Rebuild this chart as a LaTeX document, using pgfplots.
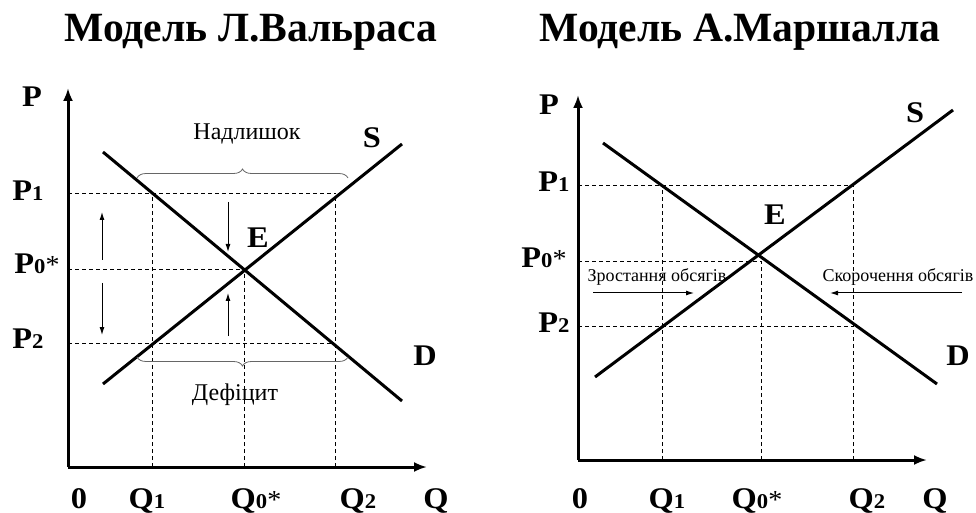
\documentclass[border=0pt]{standalone}
\usepackage{pgfplots}
\pgfplotsset{compat=1.18}
\usepackage{fontspec}
\setmainfont{Liberation Serif}
\usetikzlibrary{arrows.meta,decorations.pathreplacing}

\newcommand{\sub}[1]{{\fontsize{21bp}{21bp}\selectfont #1}}
\newcommand{\st}{{\fontsize{26bp}{26bp}\selectfont\mdseries *}}
\newcommand{\W}[1]{\scalebox{1.08}[1]{#1}}

\pgfplotsset{
  econ/.style={
    x=1bp, y=1bp, anchor=origin,
    xmin=0, ymin=0, enlargelimits=false, clip=false,
    axis lines=left, ticks=none,
    axis line style={line width=3bp, -{Latex[length=13bp,width=10bp]}},
  },
  curve/.style={line width=3bp, black},
  guide/.style={line width=0.9bp, black, dash pattern=on 4bp off 3bp},
  smallarrow/.style={line width=1bp, black, -{Latex[length=8bp,width=5bp]}},
}

\begin{document}
\begin{tikzpicture}[x=1bp,y=1bp,
  lab/.style={font=\fontsize{30bp}{30bp}\selectfont\bfseries, anchor=base, inner sep=0pt},
  ttl/.style={font=\fontsize{41.6bp}{42bp}\selectfont\bfseries, anchor=base, inner sep=0pt}]
\useasboundingbox (0,0) rectangle (976,-513);

% ---------------- Walras ----------------
\begin{axis}[econ, at={(68,-467)}, xmax=359, ymax=379]
  \addplot[guide] coordinates {(0,274) (267,274)};
  \addplot[guide] coordinates {(0,198) (176,198)};
  \addplot[guide] coordinates {(0,124) (267,124)};
  \addplot[guide] coordinates {(84,0) (84,274)};
  \addplot[guide] coordinates {(176,0) (176,198)};
  \addplot[guide] coordinates {(267,0) (267,274)};
  \addplot[curve] coordinates {(35,315) (334,66)};
  \addplot[curve] coordinates {(35,83) (334,323)};
  \addplot[smallarrow] coordinates {(34,207) (34,255)};
  \addplot[smallarrow] coordinates {(34,184) (34,132)};
  \addplot[smallarrow] coordinates {(160,265) (160,215)};
  \addplot[smallarrow] coordinates {(160,131) (160,174)};
  \draw[black!60, line width=0.8bp, decorate, decoration={brace, amplitude=9bp}]
    (axis cs:69,289) -- (axis cs:280,289);
  \draw[black!60, line width=0.8bp, decorate, decoration={brace, amplitude=9bp}]
    (axis cs:280,110) -- (axis cs:69,110);
\end{axis}

% ---------------- Marshall ----------------
\begin{axis}[econ, at={(578,-460)}, xmax=349, ymax=365]
  \addplot[guide] coordinates {(0,275) (275,275)};
  \addplot[guide] coordinates {(0,199) (183,199)};
  \addplot[guide] coordinates {(0,134) (275,134)};
  \addplot[guide] coordinates {(84,0) (84,275)};
  \addplot[guide] coordinates {(183,0) (183,199)};
  \addplot[guide] coordinates {(275,0) (275,275)};
  \addplot[curve] coordinates {(25,317) (359,76)};
  \addplot[curve] coordinates {(17,83) (375,350)};
  \addplot[smallarrow] coordinates {(15,167) (116,167)};
  \addplot[smallarrow] coordinates {(384,167) (252,167)};
\end{axis}

% titles
\node[ttl] at (251,-42) {Модель Л.Вальраса};
\node[ttl] at (740,-42) {Модель А.Маршалла};

% Walras labels
\node[lab] at (32,-107) {\W{P}};
\node[lab] at (28,-201) {\W{P\sub{1}}};
\node[lab] at (37,-274) {\W{P\sub{0}\st}};
\node[lab] at (28,-349) {\W{P\sub{2}}};
\node[lab] at (258,-248) {\W{E}};
\node[lab] at (372,-148) {\W{S}};
\node[lab] at (425,-366) {\W{D}};
\node[lab] at (79,-508) {\W{0}};
\node[lab] at (147,-508) {\W{Q\sub{1}}};
\node[lab] at (256,-508) {\W{Q\sub{0}\st}};
\node[lab] at (358,-508) {\W{Q\sub{2}}};
\node[lab] at (436,-508) {\W{Q}};
\node[font=\fontsize{24bp}{24bp}\selectfont, anchor=base, inner sep=0pt] at (247,-140) {Надлишок};
\node[font=\fontsize{24bp}{24bp}\selectfont, anchor=base, inner sep=0pt] at (235,-400) {Дефіцит};

% Marshall labels
\node[lab] at (549,-115) {\W{P}};
\node[lab] at (554,-192) {\W{P\sub{1}}};
\node[lab] at (544,-268) {\W{P\sub{0}\st}};
\node[lab] at (554,-333) {\W{P\sub{2}}};
\node[lab] at (775,-225) {\W{E}};
\node[lab] at (915,-123) {\W{S}};
\node[lab] at (958,-366) {\W{D}};
\node[lab] at (580,-508) {\W{0}};
\node[lab] at (667,-508) {\W{Q\sub{1}}};
\node[lab] at (757,-508) {\W{Q\sub{0}\st}};
\node[lab] at (867,-508) {\W{Q\sub{2}}};
\node[lab] at (935,-508) {\W{Q}};
\node[font=\fontsize{18bp}{18bp}\selectfont, anchor=base, inner sep=0pt] at (657,-282) {Зростання обсягів};
\node[font=\fontsize{18bp}{18bp}\selectfont, anchor=base, inner sep=0pt] at (898,-282) {Скорочення обсягів};
\end{tikzpicture}
\end{document}
